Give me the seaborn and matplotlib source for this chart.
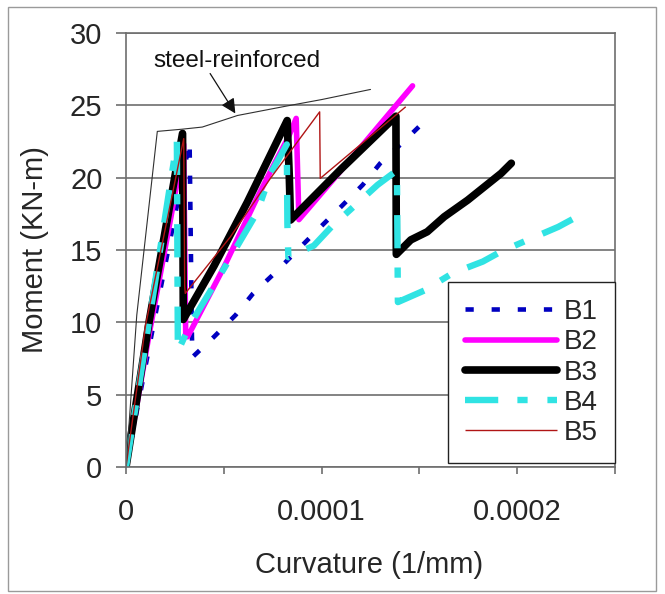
import matplotlib
matplotlib.use("Agg")
import matplotlib.pyplot as plt
import seaborn as sns
import numpy as np
import pandas as pd
from matplotlib.patches import Rectangle
from matplotlib.lines import Line2D
from matplotlib.ticker import FixedLocator, FuncFormatter

# ---------------- data (curvature in 1/mm, moment in kN-m) ----------------
steel_x = [0, 0.55e-5, 1.6e-5, 2.85e-5, 3.9e-5, 5.7e-5, 8.2e-5, 10.0e-5, 12.5e-5]
steel_y = [0, 10.5, 23.2, 23.35, 23.5, 24.3, 24.95, 25.4, 26.1]

b1_x = [0, 1.5e-5, 3.25e-5, 3.37e-5, 3.4e-5, 4.5e-5, 5.6e-5, 6.5e-5, 7.6e-5, 8.7e-5,
        9.8e-5, 11.0e-5, 12.1e-5, 13.0e-5, 14.2e-5, 15.15e-5]
b1_y = [0, 10.5, 22.5, 9.0, 7.6, 9.0, 10.5, 12.0, 13.4, 14.9,
        16.4, 18.0, 19.5, 21.0, 22.5, 23.75]

b2_x = [0, 1.2e-5, 2.3e-5, 2.95e-5, 3.05e-5, 3.15e-5, 5.0e-5, 6.7e-5, 7.6e-5, 8.3e-5,
        8.7e-5, 8.84e-5, 11.5e-5, 14.65e-5]
b2_y = [0, 9.3, 17.3, 22.3, 9.2, 9.0, 13.8, 18.6, 21.0, 22.8,
        24.1, 17.1, 21.3, 26.35]

b3_x = [0, 1.2e-5, 2.89e-5, 2.93e-5, 4.5e-5, 6.2e-5, 8.24e-5, 8.35e-5, 8.41e-5,
        11.0e-5, 13.8e-5, 13.82e-5, 14.56e-5, 15.4e-5, 16.27e-5, 17.47e-5, 19.18e-5, 19.7e-5]
b3_y = [0, 10.2, 23.06, 10.2, 13.9, 18.3, 23.95, 20.0, 17.07,
        20.6, 24.25, 14.7, 15.7, 16.26, 17.3, 18.45, 20.3, 21.0]

b4_x = [0, 1.0e-5, 2.15e-5, 2.43e-5, 2.6e-5, 2.65e-5, 3.3e-5, 5.0e-5, 6.7e-5, 7.4e-5,
        8.22e-5, 8.25e-5, 8.3e-5, 9.6e-5, 10.5e-5, 12.86e-5, 13.85e-5, 13.9e-5,
        15.25e-5, 16.7e-5, 18.24e-5, 19.18e-5, 20.55e-5, 22.1e-5, 23.54e-5]
b4_y = [0, 8.5, 18.6, 21.0, 22.5, 8.0, 9.9, 13.7, 17.6, 20.3,
        22.3, 16.8, 14.5, 15.3, 16.6, 19.5, 20.5, 11.4,
        12.2, 13.4, 14.2, 14.9, 15.7, 16.6, 17.65]

b5_x = [0, 1.0e-5, 2.95e-5, 3.0e-5, 3.03e-5, 5.33e-5, 7.38e-5, 9.9e-5, 9.93e-5,
        12.0e-5, 14.3e-5]
b5_y = [0, 9.8, 22.7, 12.5, 12.0, 15.9, 19.95, 24.55, 19.95, 22.3, 24.9]

series_names = ["B1", "B2", "B3", "B4", "B5"]
x_tick_values = [0, 0.0001, 0.0002]
x_tick_labels = ["0", "0.0001", "0.0002"]
y_tick_values = [0, 5, 10, 15, 20, 25, 30]
annotation_text = "steel-reinforced"
annotation_text_pos = (5.65e-5, 28.05)
annotation_arrow_start = (4.3e-5, 27.2)
annotation_arrow_tip = (5.59e-5, 24.44)

# ---------------- styling ----------------
sns.set_style("white")
plt.rcParams["font.family"] = ["Liberation Sans", "DejaVu Sans"]

fig = plt.figure(figsize=(6.65, 5.94), dpi=100)
ax = fig.add_axes([0.1895, 0.2138, 0.7353, 0.7306])

grid_c = "#6e6e6e"
styles = {
    "B1": dict(color="#0000C0", lw=3.3, dashes=(1.8, 3.9), cap="butt"),
    "B2": dict(color="#FF00FF", lw=4.0, dashes=None, cap="round"),
    "B3": dict(color="#000000", lw=5.5, dashes=None, cap="round"),
    "B4": dict(color="#30E3E3", lw=4.6, dashes=(5.2, 3.0, 1.6, 3.1), cap="butt"),
    "B5": dict(color="#B01515", lw=1.0, dashes=None, cap="butt"),
}
data = {"B1": (b1_x, b1_y), "B2": (b2_x, b2_y), "B3": (b3_x, b3_y),
        "B4": (b4_x, b4_y), "B5": (b5_x, b5_y)}

handles = []
for name in series_names:
    xs, ys = data[name]
    st = styles[name]
    df = pd.DataFrame({"x": xs, "y": ys})
    sns.lineplot(data=df, x="x", y="y", sort=False, estimator=None, ax=ax,
                 color=st["color"], lw=st["lw"], legend=False)
    ln = ax.lines[-1]
    if st["dashes"] is not None:
        ln.set_dashes(st["dashes"])
        ln.set_dash_capstyle(st["cap"])
    else:
        ln.set_solid_capstyle(st["cap"])
        ln.set_solid_joinstyle("round")
    h = Line2D([0], [0], color=st["color"], lw=st["lw"])
    if st["dashes"] is not None:
        h.set_dashes(st["dashes"])
        h.set_dash_capstyle(st["cap"])
    else:
        h.set_solid_capstyle(st["cap"])
    handles.append(h)

sdf = pd.DataFrame({"x": steel_x, "y": steel_y})
sns.lineplot(data=sdf, x="x", y="y", sort=False, estimator=None, ax=ax,
             color="#303030", lw=0.8, legend=False)

# annotation
ax.text(*annotation_text_pos, annotation_text, ha="center", va="center",
        fontsize=17.5, color="#111111")
ax.annotate("", xy=annotation_arrow_tip, xytext=annotation_arrow_start,
            arrowprops=dict(arrowstyle="-|>", color="#111111", lw=0.9,
                            mutation_scale=22, shrinkA=0, shrinkB=0))

# axes
ax.set_xlim(0, 0.00025)
ax.set_ylim(0, 30)
ax.xaxis.set_major_locator(FixedLocator(x_tick_values))
ax.xaxis.set_major_formatter(FuncFormatter(
    lambda v, p: x_tick_labels[x_tick_values.index(v)] if v in x_tick_values else ""))
ax.xaxis.set_minor_locator(FixedLocator([0.00005, 0.00015, 0.00025]))
ax.yaxis.set_major_locator(FixedLocator(y_tick_values))
ax.grid(axis="y", color=grid_c, lw=1.2)
ax.grid(axis="x", visible=False)
ax.set_axisbelow(True)
for sp in ax.spines.values():
    sp.set_color(grid_c)
    sp.set_linewidth(1.2)

ax.tick_params(axis="y", which="major", direction="out", length=7, width=1.2,
               color=grid_c, labelsize=21, pad=10, left=True)
ax.tick_params(axis="x", which="both", direction="out", length=5, width=1.2,
               color=grid_c, labelsize=21, pad=17, bottom=True)

ax.set_xlabel("Curvature (1/mm)", fontsize=21)
ax.set_ylabel("Moment (KN-m)", fontsize=21)
ax.xaxis.set_label_coords(0.497, -0.194)
ax.yaxis.set_label_coords(-0.158, 0.5)

leg = ax.legend(handles, series_names, loc="lower right", bbox_to_anchor=(1.0, 0.009),
                borderaxespad=0, fontsize=20, handlelength=3.3, handletextpad=0.25,
                borderpad=0.62, labelspacing=0.15, frameon=True, fancybox=False,
                framealpha=1, edgecolor="#222222")
leg.get_frame().set_linewidth(1.0)

# outer frame
fig.patches.append(Rectangle((8 / 665, 3 / 594), 648 / 665, 584 / 594,
                             transform=fig.transFigure, fill=False,
                             edgecolor="#9a9a9a", lw=1.0))

fig.savefig("out.png", dpi=100)
